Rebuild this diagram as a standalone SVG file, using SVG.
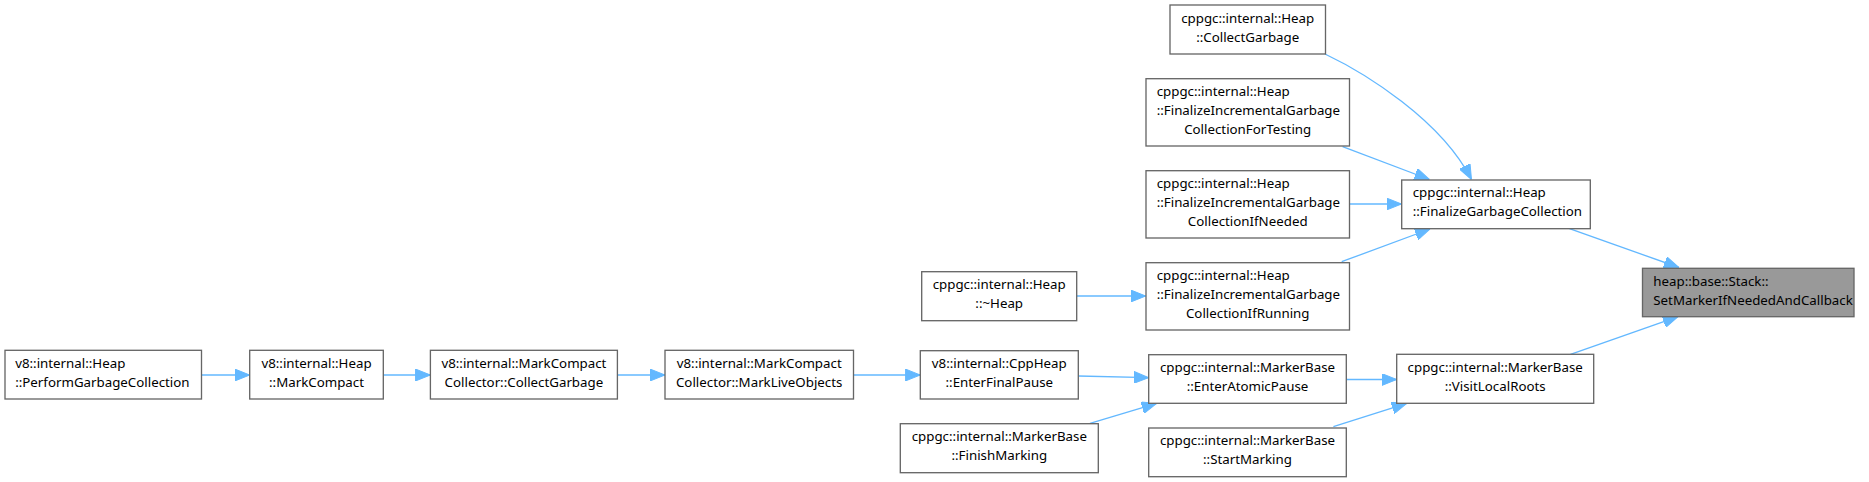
<svg xmlns="http://www.w3.org/2000/svg" width="1869" height="482" viewBox="0 0 1869 482">
<style>
.box{fill:#ffffff;stroke:#666666;stroke-width:1.33}
.hl{fill:#999999;stroke:#666666;stroke-width:1.33}
text{font-family:"Noto Sans","DejaVu Sans",sans-serif;font-size:13.3px;fill:#000000}
.c{text-anchor:middle}
.e{fill:none;stroke:#63b8ff;stroke-width:1.33}
</style>
<defs>
<marker id="ah" markerUnits="userSpaceOnUse" viewBox="0 0 15 12" refX="15" refY="6" markerWidth="15" markerHeight="12" orient="auto">
<path d="M0,0 L15,6 L0,12 z" fill="#63b8ff" stroke="#63b8ff" stroke-width="1"/>
</marker>
</defs>
<rect width="1869" height="482" fill="#ffffff"/>
<g id="connectors">
<path class="e" marker-end="url(#ah)" d="M1569.5,228.7 L1679,267.5"/>
<path class="e" marker-end="url(#ah)" d="M1570.5,354.3 L1678,316.7"/>
<path class="e" marker-end="url(#ah)" d="M1325,54 C1365,73 1441,120 1471.5,179.5"/>
<path class="e" marker-end="url(#ah)" d="M1342.6,146.7 L1429.5,179.5"/>
<path class="e" marker-end="url(#ah)" d="M1349.5,204 L1401.5,204"/>
<path class="e" marker-end="url(#ah)" d="M1341.7,261.7 L1430,229"/>
<path class="e" marker-end="url(#ah)" d="M1076.7,296 L1145.7,296"/>
<path class="e" marker-end="url(#ah)" d="M1346.3,379.5 L1396.7,379.5"/>
<path class="e" marker-end="url(#ah)" d="M1333.4,426.7 L1406.8,403.3"/>
<path class="e" marker-end="url(#ah)" d="M1078.3,376 L1148.7,377.7"/>
<path class="e" marker-end="url(#ah)" d="M1090,423.3 L1156.7,403.3"/>
<path class="e" marker-end="url(#ah)" d="M853.5,375 L920.3,375"/>
<path class="e" marker-end="url(#ah)" d="M617.3,375 L665,375"/>
<path class="e" marker-end="url(#ah)" d="M383.3,375 L430.4,375"/>
<path class="e" marker-end="url(#ah)" d="M201.5,375 L249.7,375"/>
</g>
<g id="n_stack">
<rect class="hl" x="1642.5" y="268.3" width="211.5" height="48.4"/>
<text x="1653.3" y="285.6">heap::base::Stack::</text>
<text x="1653.3" y="304.6">SetMarkerIfNeededAndCallback</text>
</g>
<g id="n_fgc">
<rect class="box" x="1401.7" y="180" width="188.6" height="48.7"/>
<text x="1412.7" y="197.3">cppgc::internal::Heap</text>
<text x="1412.7" y="216.3">::FinalizeGarbageCollection</text>
</g>
<g id="n_collect">
<rect class="box" x="1170" y="5" width="155.5" height="49"/>
<text class="c" x="1247.7" y="22.5">cppgc::internal::Heap</text>
<text class="c" x="1247.7" y="41.5">::CollectGarbage</text>
</g>
<g id="n_testing">
<rect class="box" x="1146" y="78.7" width="203.5" height="67.3"/>
<text x="1156.7" y="96">cppgc::internal::Heap</text>
<text x="1156.7" y="115">::FinalizeIncrementalGarbage</text>
<text class="c" x="1247.7" y="134">CollectionForTesting</text>
</g>
<g id="n_ifneeded">
<rect class="box" x="1146" y="170.7" width="203.5" height="67.3"/>
<text x="1156.7" y="188">cppgc::internal::Heap</text>
<text x="1156.7" y="207">::FinalizeIncrementalGarbage</text>
<text class="c" x="1247.7" y="226">CollectionIfNeeded</text>
</g>
<g id="n_ifrunning">
<rect class="box" x="1146" y="262.7" width="203.5" height="67.3"/>
<text x="1156.7" y="280">cppgc::internal::Heap</text>
<text x="1156.7" y="299">::FinalizeIncrementalGarbage</text>
<text class="c" x="1247.7" y="318">CollectionIfRunning</text>
</g>
<g id="n_dtor">
<rect class="box" x="921.7" y="271.7" width="155" height="49"/>
<text class="c" x="999.2" y="289">cppgc::internal::Heap</text>
<text class="c" x="999.2" y="308">::~Heap</text>
</g>
<g id="n_visit">
<rect class="box" x="1396.7" y="354.3" width="197" height="49"/>
<text class="c" x="1495.2" y="371.6">cppgc::internal::MarkerBase</text>
<text class="c" x="1495.2" y="390.6">::VisitLocalRoots</text>
</g>
<g id="n_atomic">
<rect class="box" x="1148.7" y="354.7" width="197.6" height="48.6"/>
<text class="c" x="1247.5" y="372">cppgc::internal::MarkerBase</text>
<text class="c" x="1247.5" y="391">::EnterAtomicPause</text>
</g>
<g id="n_start">
<rect class="box" x="1148.7" y="428" width="197.6" height="48.7"/>
<text class="c" x="1247.5" y="445.3">cppgc::internal::MarkerBase</text>
<text class="c" x="1247.5" y="464.3">::StartMarking</text>
</g>
<g id="n_finalpause">
<rect class="box" x="920.3" y="350.7" width="158" height="48.3"/>
<text class="c" x="999.3" y="368">v8::internal::CppHeap</text>
<text class="c" x="999.3" y="387">::EnterFinalPause</text>
</g>
<g id="n_finish">
<rect class="box" x="900.3" y="423.7" width="198" height="49"/>
<text class="c" x="999.3" y="441">cppgc::internal::MarkerBase</text>
<text class="c" x="999.3" y="460">::FinishMarking</text>
</g>
<g id="n_livemark">
<rect class="box" x="665" y="350.3" width="188.5" height="48.7"/>
<text class="c" x="759.2" y="367.6">v8::internal::MarkCompact</text>
<text class="c" x="759.2" y="386.6">Collector::MarkLiveObjects</text>
</g>
<g id="n_mccollect">
<rect class="box" x="430.4" y="350.3" width="187" height="48.7"/>
<text class="c" x="523.9" y="367.6">v8::internal::MarkCompact</text>
<text class="c" x="523.9" y="386.6">Collector::CollectGarbage</text>
</g>
<g id="n_markcompact">
<rect class="box" x="249.7" y="350.3" width="133.6" height="48.7"/>
<text class="c" x="316.5" y="367.6">v8::internal::Heap</text>
<text class="c" x="316.5" y="386.6">::MarkCompact</text>
</g>
<g id="n_perform">
<rect class="box" x="5" y="350.3" width="196.5" height="48.7"/>
<text x="15.2" y="367.6">v8::internal::Heap</text>
<text x="15.2" y="386.6">::PerformGarbageCollection</text>
</g>
</svg>
